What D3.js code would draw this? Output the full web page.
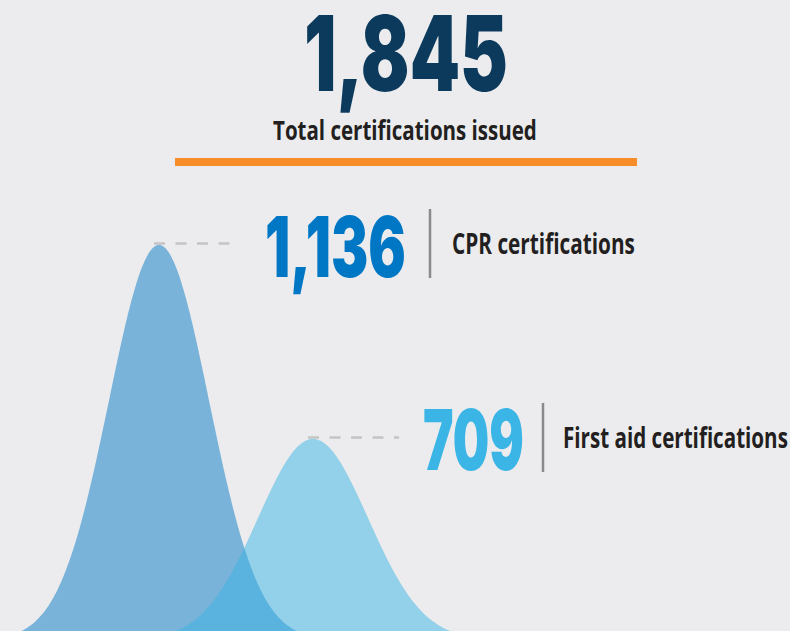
<!DOCTYPE html>
<html>
<head>
<meta charset="utf-8">
<script src="https://cdn.jsdelivr.net/npm/d3@7"></script>
<style>
  html, body { margin: 0; padding: 0; background: #ececee; }
  svg { display: block; }
  .num { font-family: Inter, "Open Sans", "DejaVu Sans", sans-serif; font-weight: 900; }
  .lab { font-family: "Open Sans", "Noto Sans", "DejaVu Sans", sans-serif; font-weight: 700; }
</style>
</head>
<body>
<svg id="chart" width="790" height="631"></svg>
<script>
/* certifications — two overlapping bells with big numbers */

const categories = ["CPR", "First aid"];
const counts     = [1136, 709];
const labels     = ["CPR certifications", "First aid certifications"];
const totalLabel = "Total certifications issued";

const W = 790, H = 631;
const FLOOR   = 640;          // where the bell tails settle (just below the frame)
const SIGMA   = [50, 55];     // bell widths, px
const FILLS   = ["#0579c3", "#39b4e4"];
const NUMCOL  = ["#0077c5", "#3bb5e5"];
const NUM_X   = [265, 423];   // left edge of each big number
const NUM_W   = [141, 101];
const DIV_X   = [430, 543];
const LAB_W   = [183, 225];

const svg = d3.select("#chart");
const fmt = d3.format(",");

// squeeze a text horizontally to a target width (condensed look)
function placeText(g, x0, y0, width, cls, size, fill, str) {
  const t = g.append("text")
    .attr("class", cls)
    .attr("font-size", size + "px")
    .attr("fill", fill)
    .text(str);
  const w = t.node().getComputedTextLength();
  t.attr("transform", `translate(${x0},${y0}) scale(${width / w},1)`);
  return t;
}

// ── Scales ──
const x = d3.scalePoint().domain(categories).range([159, 313]);
const y = d3.scaleLinear().domain([0, d3.max(counts)]).range([761, 245]);

// ── Header: total ──
const total = d3.sum(counts);
placeText(svg, 304, 91, 204, "num", 104, "#0b3a5c", fmt(total));
placeText(svg, 273, 140, 264, "lab", 26, "#231f20", totalLabel);

svg.append("rect")
  .attr("x", 175).attr("y", 158)
  .attr("width", 462).attr("height", 8)
  .attr("fill", "#f68d28");

// ── Bells ──
const xs = d3.range(0, W + 1, 1);
const area = (cat, v, s) => d3.area()
  .x(d => d)
  .y0(FLOOR)
  .y1(d => FLOOR - (FLOOR - y(v)) * Math.exp(-((d - x(cat)) ** 2) / (2 * s * s)))
  .curve(d3.curveMonotoneX);

categories.forEach((cat, i) => {
  svg.append("path")
    .datum(xs)
    .attr("d", area(cat, counts[i], SIGMA[i]))
    .attr("fill", FILLS[i])
    .attr("fill-opacity", 0.5);
});

// ── Guides, numbers and labels ──
categories.forEach((cat, i) => {
  const py = y(counts[i]);

  svg.append("line")
    .attr("x1", x(cat) - 5).attr("x2", NUM_X[i] - 30 + i * 6)
    .attr("y1", py - 1.5).attr("y2", py - 1.5)
    .attr("stroke", "#c4c4c4")
    .attr("stroke-width", 2.5)
    .attr("stroke-dasharray", "11,10.5");

  placeText(svg, NUM_X[i], py + 31.5, NUM_W[i], "num", 84, NUMCOL[i], fmt(counts[i]));

  svg.append("line")
    .attr("x1", DIV_X[i]).attr("x2", DIV_X[i])
    .attr("y1", py - 36).attr("y2", py + 33)
    .attr("stroke", "#8a8a8a")
    .attr("stroke-width", 2.5);

  placeText(svg, DIV_X[i] + 22 - i * 2, py + 8.8, LAB_W[i], "lab", 29, "#231f20", labels[i]);
});
</script>
</body>
</html>
